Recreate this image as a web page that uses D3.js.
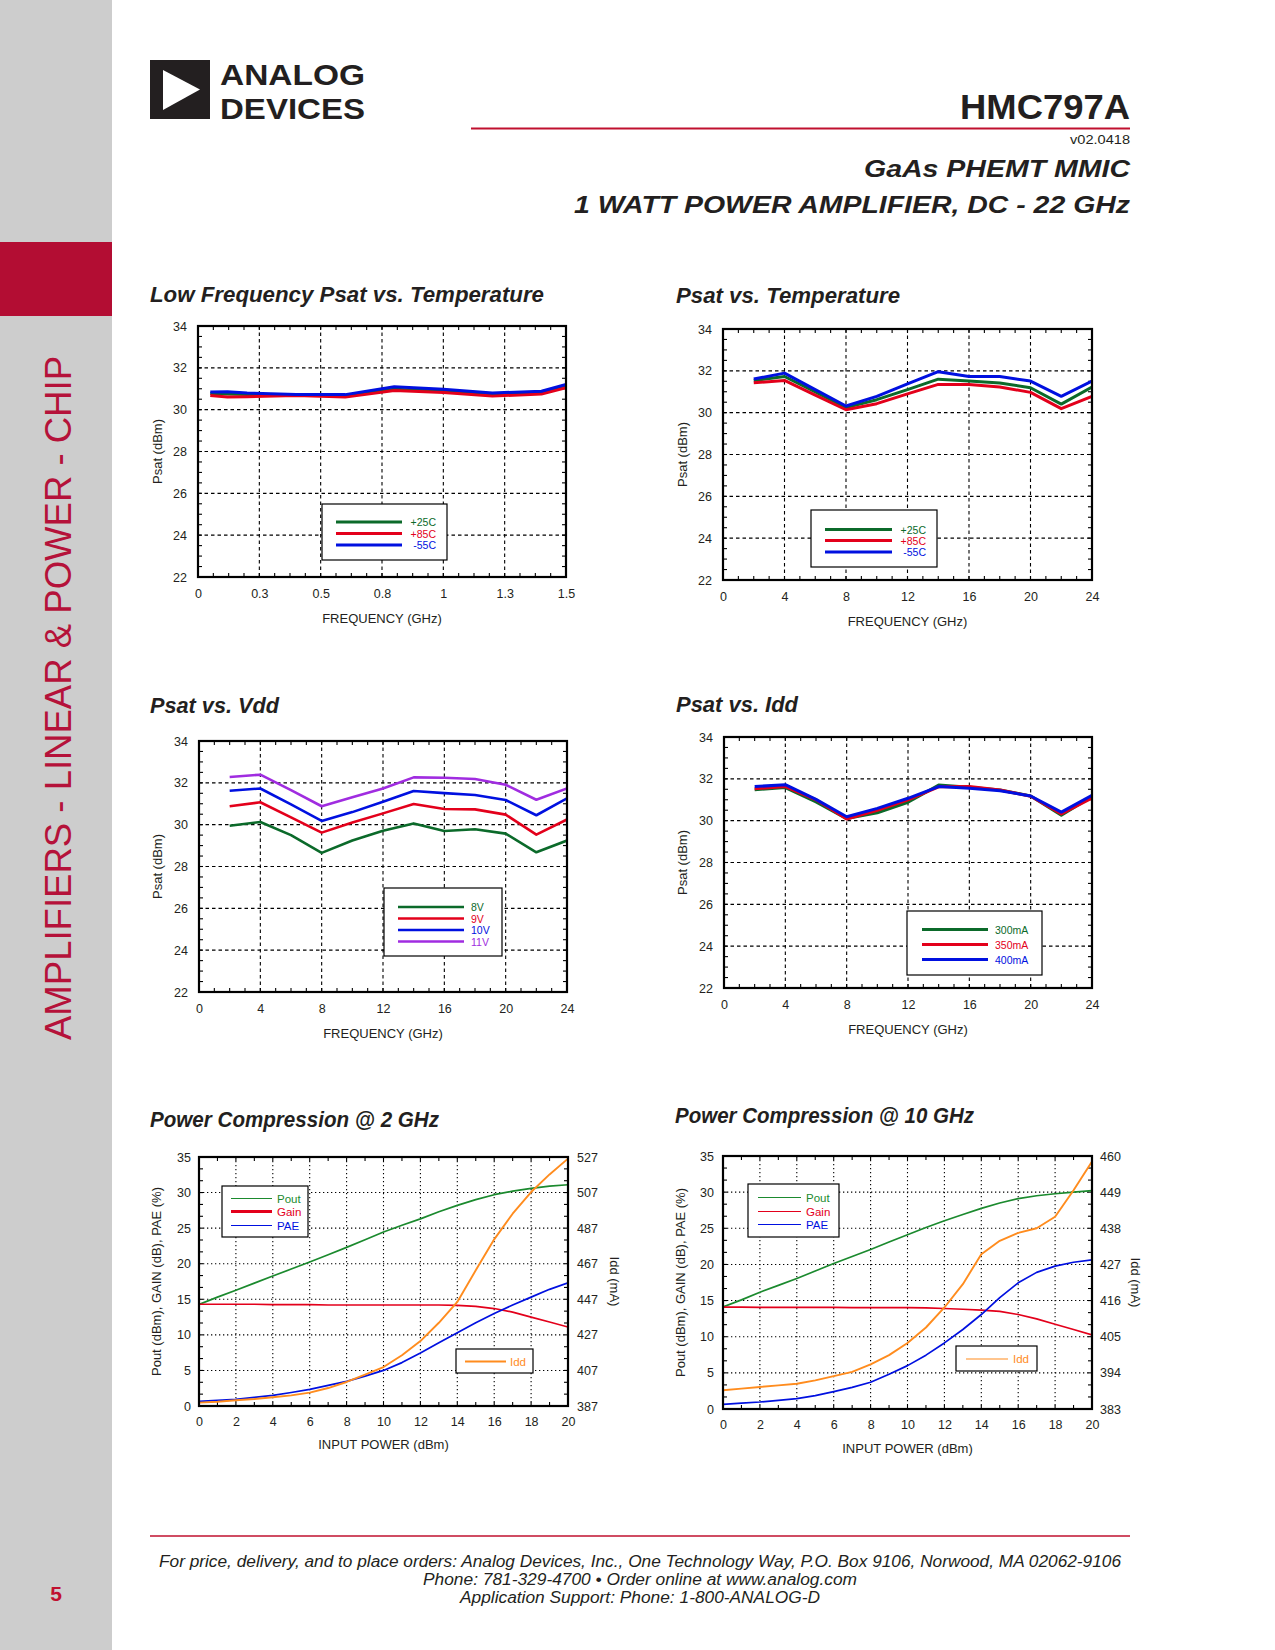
<!DOCTYPE html>
<html>
<head>
<meta charset="utf-8">
<script src="https://cdn.jsdelivr.net/npm/d3@7"></script>
<style>
  body { margin: 0; background: #fff; }
  svg text { font-family: "Liberation Sans", Arial, Helvetica, sans-serif; }
</style>
</head>
<body>
<div id="page"></div>
<script>
// ---- data ----

// Low Frequency Psat vs. Temperature
var lfFreq    = [0.05, 0.12, 0.2, 0.4, 0.6, 0.8, 1.0, 1.2, 1.4, 1.5];
var lfPsat25  = [30.77, 30.75, 30.72, 30.7, 30.65, 30.98, 30.88, 30.72, 30.8, 31.1];
var lfPsat85  = [30.68, 30.6, 30.62, 30.68, 30.6, 30.92, 30.82, 30.65, 30.75, 31.05];
var lfPsatM55 = [30.85, 30.86, 30.8, 30.73, 30.72, 31.1, 30.98, 30.8, 30.88, 31.2];
var lfTickValues = [0, 0.25, 0.5, 0.75, 1, 1.25, 1.5];
var lfTickLabels = ["0", "0.3", "0.5", "0.8", "1", "1.3", "1.5"];

// Psat vs. Temperature / Vdd / Idd (2 - 24 GHz)
var freq = [2, 4, 6, 8, 10, 12, 14, 16, 18, 20, 22, 24];
var tempPsat25  = [31.54, 31.73, 30.99, 30.24, 30.62, 31.1, 31.6, 31.51, 31.42, 31.19, 30.41, 31.23];
var tempPsat85  = [31.43, 31.54, 30.84, 30.14, 30.43, 30.9, 31.35, 31.35, 31.23, 30.97, 30.19, 30.78];
var tempPsatM55 = [31.61, 31.89, 31.1, 30.32, 30.78, 31.38, 31.96, 31.73, 31.73, 31.51, 30.78, 31.51];

var vdd8  = [29.95, 30.13, 29.5, 28.65, 29.24, 29.71, 30.06, 29.7, 29.78, 29.57, 28.68, 29.24];
var vdd9  = [30.88, 31.07, 30.35, 29.62, 30.1, 30.54, 30.99, 30.75, 30.73, 30.48, 29.52, 30.25];
var vdd10 = [31.62, 31.73, 30.97, 30.18, 30.6, 31.1, 31.61, 31.51, 31.42, 31.18, 30.45, 31.26];
var vdd11 = [32.28, 32.39, 31.65, 30.88, 31.31, 31.73, 32.26, 32.24, 32.18, 31.91, 31.19, 31.73];

var idd300 = [31.48, 31.58, 30.9, 30.1, 30.38, 30.88, 31.7, 31.6, 31.47, 31.18, 30.26, 31.15];
var idd350 = [31.53, 31.63, 31.0, 30.08, 30.5, 31.0, 31.62, 31.63, 31.47, 31.17, 30.32, 31.08];
var idd400 = [31.63, 31.72, 31.02, 30.19, 30.59, 31.07, 31.63, 31.55, 31.43, 31.18, 30.41, 31.21];

var freqTicks = [0, 4, 8, 12, 16, 20, 24];
var psatTicks = [22, 24, 26, 28, 30, 32, 34];

// Power compression
var pin = [0, 1, 2, 3, 4, 5, 6, 7, 8, 9, 10, 11, 12, 13, 14, 15, 16, 17, 18, 19, 20];
var pc2Pout = [14.29, 15.3, 16.26, 17.27, 18.27, 19.25, 20.24, 21.27, 22.3, 23.38, 24.46, 25.4, 26.3, 27.3, 28.2, 29.0, 29.7, 30.2, 30.6, 30.9, 31.1];
var pc2Gain = [14.3, 14.3, 14.3, 14.3, 14.25, 14.25, 14.25, 14.2, 14.2, 14.2, 14.2, 14.2, 14.2, 14.2, 14.15, 14.0, 13.7, 13.2, 12.5, 11.8, 11.1];
var pc2Pae  = [0.66, 0.8, 0.94, 1.2, 1.5, 1.9, 2.34, 2.9, 3.47, 4.2, 5.0, 6.1, 7.45, 8.9, 10.3, 11.7, 13.0, 14.2, 15.3, 16.4, 17.3];
var pc2Idd  = [388.9, 389.4, 390.2, 390.9, 391.9, 393.0, 394.5, 397.1, 400.5, 404.6, 408.9, 415.5, 423.5, 433.8, 445.5, 463.3, 480.7, 495.1, 507.3, 517.2, 526.1];
var pc2IddTicks = [387, 407, 427, 447, 467, 487, 507, 527];

var pc10Pout = [14.13, 15.1, 16.16, 17.1, 18.05, 19.1, 20.13, 21.1, 22.07, 23.1, 24.1, 25.1, 26.04, 26.9, 27.75, 28.5, 29.1, 29.5, 29.78, 30.0, 30.2];
var pc10Gain = [14.08, 14.08, 14.07, 14.05, 14.05, 14.05, 14.05, 14.03, 14.02, 14.02, 14.02, 14.0, 13.9, 13.8, 13.67, 13.5, 13.07, 12.47, 11.73, 11.0, 10.25];
var pc10Pae  = [0.65, 0.8, 0.97, 1.2, 1.43, 1.85, 2.4, 3.0, 3.7, 4.8, 6.0, 7.45, 9.14, 11.0, 13.07, 15.4, 17.45, 18.9, 19.76, 20.3, 20.64];
var pc10Idd  = [388.7, 389.2, 389.7, 390.2, 390.7, 391.7, 393.0, 394.3, 396.6, 399.4, 403.1, 407.8, 413.9, 421.0, 430.1, 434.2, 436.6, 438.0, 441.5, 449.6, 458.3];
var pc10IddTicks = [383, 394, 405, 416, 427, 438, 449, 460];

var pinTicks = [0, 2, 4, 6, 8, 10, 12, 14, 16, 18, 20];
var pcLeftTicks = [0, 5, 10, 15, 20, 25, 30, 35];

// colours
var GREEN = "#0b6a2a", RED = "#e3001b", BLUE = "#0010e0", PURPLE = "#a02ce0";
var GREEN2 = "#1b8a2e", ORANGE = "#ff8c1e", DARK = "#231f20", BRAND = "#b30d33";

var svg = d3.select("#page").append("svg")
    .attr("width", 1275).attr("height", 1650)
    .attr("viewBox", "0 0 1275 1650");

// ---- page furniture ----
svg.append("rect").attr("x", 0).attr("y", 0).attr("width", 112).attr("height", 1650).attr("fill", "#cdcdcd");
svg.append("rect").attr("x", 0).attr("y", 242).attr("width", 112).attr("height", 74).attr("fill", BRAND);
svg.append("text")
    .attr("transform", "translate(70.5,1040) rotate(-90)")
    .attr("font-size", 36).attr("fill", "#b5123a")
    .attr("textLength", 684).attr("lengthAdjust", "spacingAndGlyphs")
    .text("AMPLIFIERS - LINEAR & POWER - CHIP");

// logo
svg.append("rect").attr("x", 150).attr("y", 60).attr("width", 60).attr("height", 59).attr("fill", DARK);
svg.append("path").attr("d", "M163,70 L200,89.5 L163,110 Z").attr("fill", "#fff");
svg.append("text").attr("x", 220).attr("y", 85).attr("font-size", 29.5).attr("font-weight", "bold").attr("fill", DARK)
    .attr("textLength", 145).attr("lengthAdjust", "spacingAndGlyphs").text("ANALOG");
svg.append("text").attr("x", 220).attr("y", 118.5).attr("font-size", 29.5).attr("font-weight", "bold").attr("fill", DARK)
    .attr("textLength", 145).attr("lengthAdjust", "spacingAndGlyphs").text("DEVICES");

svg.append("text").attr("x", 1130).attr("y", 119).attr("text-anchor", "end").attr("font-size", 35).attr("font-weight", "bold")
    .attr("fill", DARK).attr("textLength", 170).attr("lengthAdjust", "spacingAndGlyphs").text("HMC797A");
svg.append("line").attr("x1", 471).attr("x2", 1130).attr("y1", 128.5).attr("y2", 128.5).attr("stroke", "#c0102f").attr("stroke-width", 2.2);
svg.append("text").attr("x", 1130).attr("y", 144).attr("text-anchor", "end").attr("font-size", 12.5).attr("fill", DARK)
    .attr("textLength", 60).attr("lengthAdjust", "spacingAndGlyphs").text("v02.0418");
svg.append("text").attr("x", 1130).attr("y", 177).attr("text-anchor", "end").attr("font-size", 23).attr("font-weight", "bold")
    .attr("font-style", "italic").attr("fill", DARK).attr("textLength", 266).attr("lengthAdjust", "spacingAndGlyphs").text("GaAs PHEMT MMIC");
svg.append("text").attr("x", 1130).attr("y", 213).attr("text-anchor", "end").attr("font-size", 23).attr("font-weight", "bold")
    .attr("font-style", "italic").attr("fill", DARK).attr("textLength", 556).attr("lengthAdjust", "spacingAndGlyphs").text("1 WATT POWER AMPLIFIER, DC - 22 GHz");

// footer
svg.append("line").attr("x1", 150).attr("x2", 1130).attr("y1", 1536).attr("y2", 1536).attr("stroke", "#c0102f").attr("stroke-width", 1.5);
[
    {t: "For price, delivery, and to place orders: Analog Devices, Inc., One Technology Way, P.O. Box 9106, Norwood, MA 02062-9106", y: 1567, w: 962},
    {t: "Phone: 781-329-4700 \u2022 Order online at www.analog.com", y: 1585, w: 434},
    {t: "Application Support: Phone: 1-800-ANALOG-D", y: 1603, w: 360}
].forEach(function (f) {
    svg.append("text").attr("x", 640).attr("y", f.y).attr("text-anchor", "middle").attr("font-size", 16)
        .attr("font-style", "italic").attr("fill", DARK)
        .attr("textLength", f.w).attr("lengthAdjust", "spacingAndGlyphs").text(f.t);
});
svg.append("text").attr("x", 56).attr("y", 1601).attr("text-anchor", "middle").attr("font-size", 21)
    .attr("font-weight", "bold").attr("fill", "#c0102f").text("5");

// ---- generic plot ----
function drawPlot(p) {
    var g = svg.append("g").attr("transform", "translate(" + p.box.x + "," + p.box.y + ")");
    var w = p.box.w, h = p.box.h;
    var x = d3.scaleLinear().domain(p.xDomain).range([0, w]);
    var y = d3.scaleLinear().domain(p.yDomain).range([h, 0]);
    var y2 = p.y2Domain ? d3.scaleLinear().domain(p.y2Domain).range([h, 0]) : null;

    // title
    svg.append("text").attr("x", p.title.x).attr("y", p.title.y)
        .attr("font-size", 22).attr("font-weight", "bold").attr("font-style", "italic").attr("fill", DARK)
        .attr("textLength", p.title.w).attr("lengthAdjust", "spacingAndGlyphs").text(p.title.t);

    // grid
    var xInner = p.xTicks.slice(1, -1), yInner = p.yTicks.slice(1, -1);
    var grid = g.append("g").attr("stroke", "#000").attr("stroke-width", 1.1).attr("stroke-dasharray", p.dash);
    grid.selectAll("line.v").data(xInner).enter().append("line")
        .attr("x1", function (d) { return x(d); }).attr("x2", function (d) { return x(d); })
        .attr("y1", 0).attr("y2", h);
    grid.selectAll("line.h").data(yInner).enter().append("line")
        .attr("y1", function (d) { return y(d); }).attr("y2", function (d) { return y(d); })
        .attr("x1", 0).attr("x2", w);

    // minor ticks, inward on all sides
    var mt = 4;
    var minors = g.append("g").attr("stroke", "#000").attr("stroke-width", 1.1);
    minors.selectAll("line.b").data(p.xMinor).enter().append("line")
        .attr("x1", function (d) { return x(d); }).attr("x2", function (d) { return x(d); })
        .attr("y1", h).attr("y2", h - mt);
    minors.selectAll("line.t").data(p.xMinor).enter().append("line")
        .attr("x1", function (d) { return x(d); }).attr("x2", function (d) { return x(d); })
        .attr("y1", 0).attr("y2", mt);
    minors.selectAll("line.l").data(p.yMinor).enter().append("line")
        .attr("y1", function (d) { return y(d); }).attr("y2", function (d) { return y(d); })
        .attr("x1", 0).attr("x2", mt);
    minors.selectAll("line.r").data(p.yMinor).enter().append("line")
        .attr("y1", function (d) { return y(d); }).attr("y2", function (d) { return y(d); })
        .attr("x1", w).attr("x2", w - mt);

    // axes labels
    var xAxis = d3.axisBottom(x).tickValues(p.xTicks).tickSize(0).tickPadding(p.xPad)
        .tickFormat(function (d, i) { return p.xLabels ? p.xLabels[i] : d; });
    var gx = g.append("g").attr("transform", "translate(0," + h + ")").call(xAxis);
    gx.select(".domain").remove();
    gx.selectAll("text").attr("font-size", 12.5).attr("fill", DARK)
        .style("font-family", "\"Liberation Sans\", Arial, sans-serif");

    var gy = g.append("g").call(d3.axisLeft(y).tickValues(p.yTicks).tickSize(0).tickPadding(p.yPad));
    gy.select(".domain").remove();
    gy.selectAll("text").attr("font-size", 12.5).attr("fill", DARK)
        .style("font-family", "\"Liberation Sans\", Arial, sans-serif");

    if (y2) {
        var gy2 = g.append("g").attr("transform", "translate(" + w + ",0)")
            .call(d3.axisRight(y2).tickValues(p.y2Ticks).tickSize(0).tickPadding(p.y2Pad));
        gy2.select(".domain").remove();
        gy2.selectAll("text").attr("font-size", 12.5).attr("fill", DARK)
            .style("font-family", "\"Liberation Sans\", Arial, sans-serif");
        g.append("text").attr("transform", "translate(" + (w + p.y2TitleX) + "," + (h / 2) + ") rotate(90)")
            .attr("text-anchor", "middle").attr("font-size", 13).attr("fill", DARK).text(p.y2Title);
    }

    g.append("text").attr("x", w / 2).attr("y", h + p.xTitleDy).attr("text-anchor", "middle")
        .attr("font-size", 13).attr("fill", DARK).text(p.xTitle);
    g.append("text").attr("transform", "translate(" + p.yTitleX + "," + (h / 2) + ") rotate(-90)")
        .attr("text-anchor", "middle").attr("font-size", 13).attr("fill", DARK).text(p.yTitle);

    // series
    var clipId = "clip" + p.id;
    g.append("clipPath").attr("id", clipId).append("rect").attr("width", w).attr("height", h);
    var lines = g.append("g").attr("clip-path", "url(#" + clipId + ")");
    p.series.forEach(function (s) {
        var sc = s.right ? y2 : y;
        var line = d3.line()
            .x(function (d, i) { return x(p.xs[i]); })
            .y(function (d) { return sc(d); });
        lines.append("path").datum(s.values)
            .attr("fill", "none").attr("stroke", s.color).attr("stroke-width", s.width)
            .attr("stroke-linejoin", "round").attr("d", line);
    });

    // frame
    g.append("rect").attr("width", w).attr("height", h).attr("fill", "none")
        .attr("stroke", "#000").attr("stroke-width", 2.2);

    // legends
    p.legends.forEach(function (lg) {
        var lgG = svg.append("g");
        lgG.append("rect").attr("x", lg.x).attr("y", lg.y).attr("width", lg.w).attr("height", lg.h)
            .attr("fill", "#fff").attr("stroke", "#000").attr("stroke-width", 1.2);
        lg.items.forEach(function (it, i) {
            var yy = lg.rowY[i];
            lgG.append("line").attr("x1", lg.lx1).attr("x2", lg.lx2).attr("y1", yy).attr("y2", yy)
                .attr("stroke", it.color).attr("stroke-width", it.width);
            lgG.append("text").attr("x", lg.tx).attr("y", yy + 4).attr("text-anchor", lg.anchor)
                .attr("font-size", lg.fs).attr("fill", it.color).text(it.label);
        });
    });
}

var psatMinor = d3.range(22, 34.01, 0.5);
var freqMinor = d3.range(0, 24.01, 1);

// 1. Low Frequency Psat vs Temperature
drawPlot({
    id: 1, box: {x: 198, y: 326, w: 368, h: 251},
    title: {t: "Low Frequency Psat vs. Temperature", x: 150, y: 302, w: 394},
    xDomain: [0, 1.5], yDomain: [22, 34],
    xTicks: lfTickValues, xLabels: lfTickLabels, yTicks: psatTicks,
    xMinor: d3.range(0, 1.5001, 0.0625), yMinor: psatMinor,
    xPad: 12, yPad: 11, xTitleDy: 46, yTitleX: -36, dash: "3.5,3",
    xTitle: "FREQUENCY (GHz)", yTitle: "Psat (dBm)",
    xs: lfFreq,
    series: [
        {values: lfPsat25, color: GREEN, width: 3},
        {values: lfPsat85, color: RED, width: 3},
        {values: lfPsatM55, color: BLUE, width: 3}
    ],
    legends: [{
        x: 322, y: 504, w: 125, h: 56, lx1: 336, lx2: 402, tx: 436, anchor: "end", fs: 10.5,
        rowY: [522, 533.5, 545],
        items: [{label: "+25C", color: GREEN, width: 3}, {label: "+85C", color: RED, width: 3}, {label: "-55C", color: BLUE, width: 3}]
    }]
});

// 2. Psat vs Temperature
drawPlot({
    id: 2, box: {x: 723, y: 329, w: 369, h: 251},
    title: {t: "Psat vs. Temperature", x: 676, y: 303, w: 224},
    xDomain: [0, 24], yDomain: [22, 34],
    xTicks: freqTicks, yTicks: psatTicks,
    xMinor: freqMinor, yMinor: psatMinor,
    xPad: 12, yPad: 11, xTitleDy: 46, yTitleX: -36, dash: "3.5,3",
    xTitle: "FREQUENCY (GHz)", yTitle: "Psat (dBm)",
    xs: freq,
    series: [
        {values: tempPsat25, color: GREEN, width: 3},
        {values: tempPsat85, color: RED, width: 3},
        {values: tempPsatM55, color: BLUE, width: 3}
    ],
    legends: [{
        x: 811, y: 510, w: 126, h: 57, lx1: 825, lx2: 892, tx: 926, anchor: "end", fs: 10.5,
        rowY: [529.5, 540.5, 552],
        items: [{label: "+25C", color: GREEN, width: 3}, {label: "+85C", color: RED, width: 3}, {label: "-55C", color: BLUE, width: 3}]
    }]
});

// 3. Psat vs Vdd
drawPlot({
    id: 3, box: {x: 199, y: 741, w: 368, h: 251},
    title: {t: "Psat vs. Vdd", x: 150, y: 713, w: 129},
    xDomain: [0, 24], yDomain: [22, 34],
    xTicks: freqTicks, yTicks: psatTicks,
    xMinor: freqMinor, yMinor: psatMinor,
    xPad: 12, yPad: 11, xTitleDy: 46, yTitleX: -37, dash: "3.5,3",
    xTitle: "FREQUENCY (GHz)", yTitle: "Psat (dBm)",
    xs: freq,
    series: [
        {values: vdd8, color: GREEN, width: 2.6},
        {values: vdd9, color: RED, width: 2.6},
        {values: vdd10, color: BLUE, width: 2.6},
        {values: vdd11, color: PURPLE, width: 2.6}
    ],
    legends: [{
        x: 384, y: 888, w: 118, h: 68, lx1: 398, lx2: 464, tx: 471, anchor: "start", fs: 10.5,
        rowY: [907, 918.5, 930, 941.5],
        items: [{label: "8V", color: GREEN, width: 2.6}, {label: "9V", color: RED, width: 2.6},
                {label: "10V", color: BLUE, width: 2.6}, {label: "11V", color: PURPLE, width: 2.6}]
    }]
});

// 4. Psat vs Idd
drawPlot({
    id: 4, box: {x: 724, y: 737, w: 368, h: 251},
    title: {t: "Psat vs. Idd", x: 676, y: 712, w: 122},
    xDomain: [0, 24], yDomain: [22, 34],
    xTicks: freqTicks, yTicks: psatTicks,
    xMinor: freqMinor, yMinor: psatMinor,
    xPad: 12, yPad: 11, xTitleDy: 46, yTitleX: -37, dash: "3.5,3",
    xTitle: "FREQUENCY (GHz)", yTitle: "Psat (dBm)",
    xs: freq,
    series: [
        {values: idd300, color: GREEN, width: 3},
        {values: idd350, color: RED, width: 3},
        {values: idd400, color: BLUE, width: 3}
    ],
    legends: [{
        x: 907, y: 911, w: 135, h: 64, lx1: 922, lx2: 988, tx: 995, anchor: "start", fs: 10.5,
        rowY: [929.5, 944.5, 959.5],
        items: [{label: "300mA", color: GREEN, width: 3}, {label: "350mA", color: RED, width: 3},
                {label: "400mA", color: BLUE, width: 3}]
    }]
});

// 5. Power Compression @ 2 GHz
drawPlot({
    id: 5, box: {x: 199, y: 1157, w: 369, h: 249},
    title: {t: "Power Compression @ 2 GHz", x: 150, y: 1127, w: 289},
    xDomain: [0, 20], yDomain: [0, 35], y2Domain: [387, 527],
    xTicks: pinTicks, yTicks: pcLeftTicks, y2Ticks: pc2IddTicks,
    xMinor: pin, yMinor: d3.range(0, 35.01, 5 / 3),
    xPad: 11, yPad: 8, y2Pad: 9, xTitleDy: 43, yTitleX: -38, y2TitleX: 42, dash: "1.3,2.7",
    xTitle: "INPUT POWER (dBm)", yTitle: "Pout (dBm), GAIN (dB), PAE (%)", y2Title: "Idd (mA)",
    xs: pin,
    series: [
        {values: pc2Pout, color: GREEN2, width: 1.7},
        {values: pc2Gain, color: RED, width: 1.7},
        {values: pc2Pae, color: BLUE, width: 1.7},
        {values: pc2Idd, color: ORANGE, width: 1.9, right: true}
    ],
    legends: [{
        x: 222, y: 1186, w: 86, h: 51, lx1: 231, lx2: 272, tx: 277, anchor: "start", fs: 11.5,
        rowY: [1198.5, 1211.5, 1225.5],
        items: [{label: "Pout", color: GREEN2, width: 1.2}, {label: "Gain", color: RED, width: 2.8},
                {label: "PAE", color: BLUE, width: 1.2}]
    }, {
        x: 456, y: 1349, w: 77, h: 24, lx1: 465, lx2: 506, tx: 510, anchor: "start", fs: 11.5,
        rowY: [1361.5],
        items: [{label: "Idd", color: ORANGE, width: 2}]
    }]
});

// 6. Power Compression @ 10 GHz
drawPlot({
    id: 6, box: {x: 723, y: 1156, w: 369, h: 253},
    title: {t: "Power Compression @ 10 GHz", x: 675, y: 1123, w: 299},
    xDomain: [0, 20], yDomain: [0, 35], y2Domain: [383, 460],
    xTicks: pinTicks, yTicks: pcLeftTicks, y2Ticks: pc10IddTicks,
    xMinor: pin, yMinor: d3.range(0, 35.01, 5 / 3),
    xPad: 11, yPad: 9, y2Pad: 8, xTitleDy: 44, yTitleX: -38, y2TitleX: 39, dash: "1.3,2.7",
    xTitle: "INPUT POWER (dBm)", yTitle: "Pout (dBm), GAIN (dB), PAE (%)", y2Title: "Idd (mA)",
    xs: pin,
    series: [
        {values: pc10Pout, color: GREEN2, width: 1.7},
        {values: pc10Gain, color: RED, width: 1.7},
        {values: pc10Pae, color: BLUE, width: 1.7},
        {values: pc10Idd, color: ORANGE, width: 1.9, right: true}
    ],
    legends: [{
        x: 748, y: 1184, w: 91, h: 53, lx1: 758, lx2: 801, tx: 806, anchor: "start", fs: 11.5,
        rowY: [1197.5, 1211.5, 1224.5],
        items: [{label: "Pout", color: GREEN2, width: 1.2}, {label: "Gain", color: RED, width: 1.2},
                {label: "PAE", color: BLUE, width: 1.2}]
    }, {
        x: 956, y: 1346, w: 81, h: 25, lx1: 966, lx2: 1008, tx: 1013, anchor: "start", fs: 11.5,
        rowY: [1359],
        items: [{label: "Idd", color: ORANGE, width: 1.2}]
    }]
});
</script>
</body>
</html>
